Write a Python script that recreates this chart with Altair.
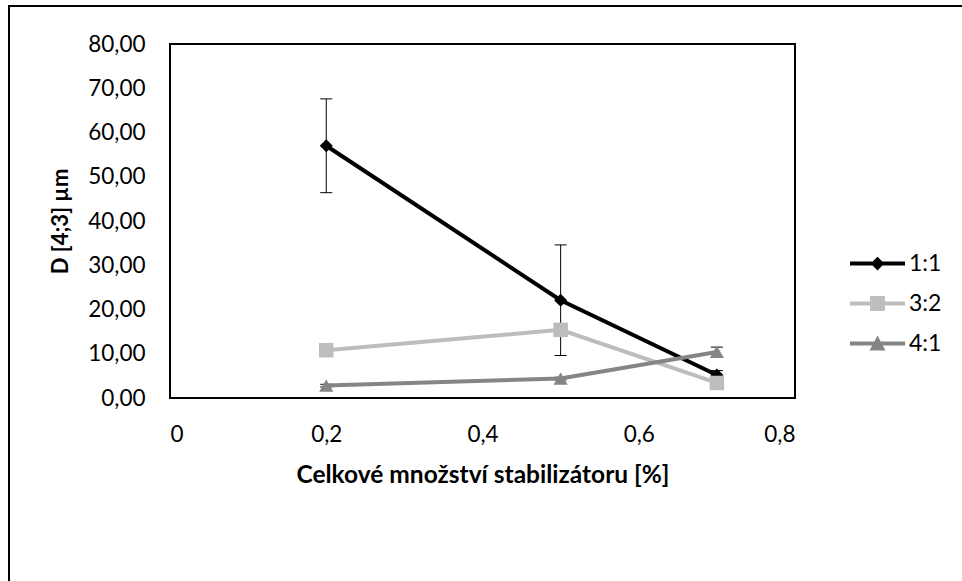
import altair as alt
import pandas as pd

# Total stabiliser amount [%] for each measured formulation
x_vals = [0.2, 0.5, 0.7]

# Series names (ratio) and their mean D[4;3] values with error-bar half widths
series_names = ["1:1", "3:2", "4:1"]
d_11 = [57.0, 22.1, 5.2]
err_11 = [10.6, 12.5, 1.0]
d_32 = [10.8, 15.4, 3.4]
err_32 = [None, None, None]
d_41 = [2.8, 4.4, 10.4]
err_41 = [0.3, 0.3, 1.1]

x_ticks = [0, 0.2, 0.4, 0.6, 0.8]
y_ticks = [0, 10, 20, 30, 40, 50, 60, 70, 80]

colors = ["#000000", "#BDBDBD", "#858585"]
shapes = ["diamond", "square", "triangle-up"]
sizes = [170, 210, 200]

# legend glyphs: a short line segment with the series marker in its middle
legend_paths = [
    "M-1,-0.073H1V0.073H-1Z M0,-0.25L0.25,0L0,0.25L-0.25,0Z",
    "M-1,-0.073H1V0.073H-1Z M-0.27,-0.27H0.27V0.27H-0.27Z",
    "M-1,-0.073H1V0.073H-1Z M0,-0.29L0.29,0.25H-0.29Z",
]

FONT = "Lato"

rows = []
for name, vals, errs in [("1:1", d_11, err_11), ("3:2", d_32, err_32), ("4:1", d_41, err_41)]:
    for xv, v, e in zip(x_vals, vals, errs):
        rows.append({
            "series": name, "x": xv, "y": v, "err": e,
            "lo": None if e is None else v - e,
            "hi": None if e is None else v + e,
        })
df = pd.DataFrame(rows)

x_scale = alt.Scale(domain=[0, 0.8], nice=False, zero=False)
y_scale = alt.Scale(domain=[0, 80], nice=False)

x_axis = alt.Axis(
    values=x_ticks,
    labelExpr="replace(format(datum.value, '.1~f'), '.', ',')",
    title="Celkové množství stabilizátoru [%]",
    labelPadding=25,
    titlePadding=18,
    titleFontSize=24.5,
)
y_axis = alt.Axis(
    values=y_ticks,
    labelExpr="replace(format(datum.value, '.2f'), '.', ',')",
    title="D [4;3] µm",
    labelPadding=25,
    titlePadding=15,
    titleFontSize=22,
)

X = alt.X("x:Q", scale=x_scale, axis=x_axis)


def Y(field):
    return alt.Y(f"{field}:Q", scale=y_scale, axis=y_axis)


layers = []
for name, color, shape, size in zip(series_names, colors, shapes, sizes):
    base = alt.Chart(df).transform_filter(alt.datum.series == name)
    with_err = base.transform_filter("isValid(datum.err)")
    layers.append(
        with_err.mark_rule(color="black", strokeWidth=1).encode(
            x=X, y=Y("lo"), y2="hi:Q"
        )
    )
    for end in ["lo", "hi"]:
        layers.append(
            with_err.mark_tick(
                orient="horizontal", size=12, thickness=1, color="black", opacity=1
            ).encode(x=X, y=Y(end))
        )
    layers.append(
        base.mark_line(color=color, strokeWidth=4).encode(x=X, y=Y("y"))
    )
    layers.append(
        base.mark_point(
            shape=shape, filled=True, size=size, color=color, opacity=1
        ).encode(x=X, y=Y("y"))
    )

# legend-only layer (no visible marks)
legend_props = dict(
    title=None,
    orient="none",
    legendX=680,
    legendY=192,
    symbolSize=3025,
    symbolStrokeWidth=0,
    labelFont=FONT,
    labelFontSize=23,
    labelColor="black",
    labelOffset=4,
    rowPadding=0,
)
legend_layer = (
    alt.Chart(df)
    .transform_filter("false")
    .mark_point(filled=True, opacity=1, size=3025)
    .encode(
        x=X,
        y=Y("y"),
        color=alt.Color(
            "series:N",
            scale=alt.Scale(domain=series_names, range=colors),
            legend=alt.Legend(**legend_props),
        ),
        shape=alt.Shape(
            "series:N",
            scale=alt.Scale(domain=series_names, range=legend_paths),
            legend=alt.Legend(**legend_props),
        ),
    )
)

# outer chart-area frame
frame = (
    alt.Chart(pd.DataFrame({"k": [0]}))
    .mark_rect(fill="transparent", stroke="black", strokeWidth=2)
    .encode(
        x=alt.value(-161), x2=alt.value(840),
        y=alt.value(-38), y2=alt.value(600),
    )
)

chart = (
    alt.layer(frame, *layers, legend_layer)
    .properties(
        width=625,
        height=354,
        autosize=alt.AutoSizeParams(type="none"),
        padding={"left": 170, "top": 44, "right": 167, "bottom": 183},
        background="white",
    )
    .configure_view(stroke="black", strokeWidth=2)
    .configure_axis(
        grid=False,
        domain=False,
        ticks=False,
        tickSize=0,
        labelFont=FONT,
        labelFontSize=22.5,
        labelColor="black",
        titleFont=FONT,
        titleFontWeight="bold",
        titleColor="black",
    )
)

chart.save("out.html", embed_options={"renderer": "svg", "actions": False})
